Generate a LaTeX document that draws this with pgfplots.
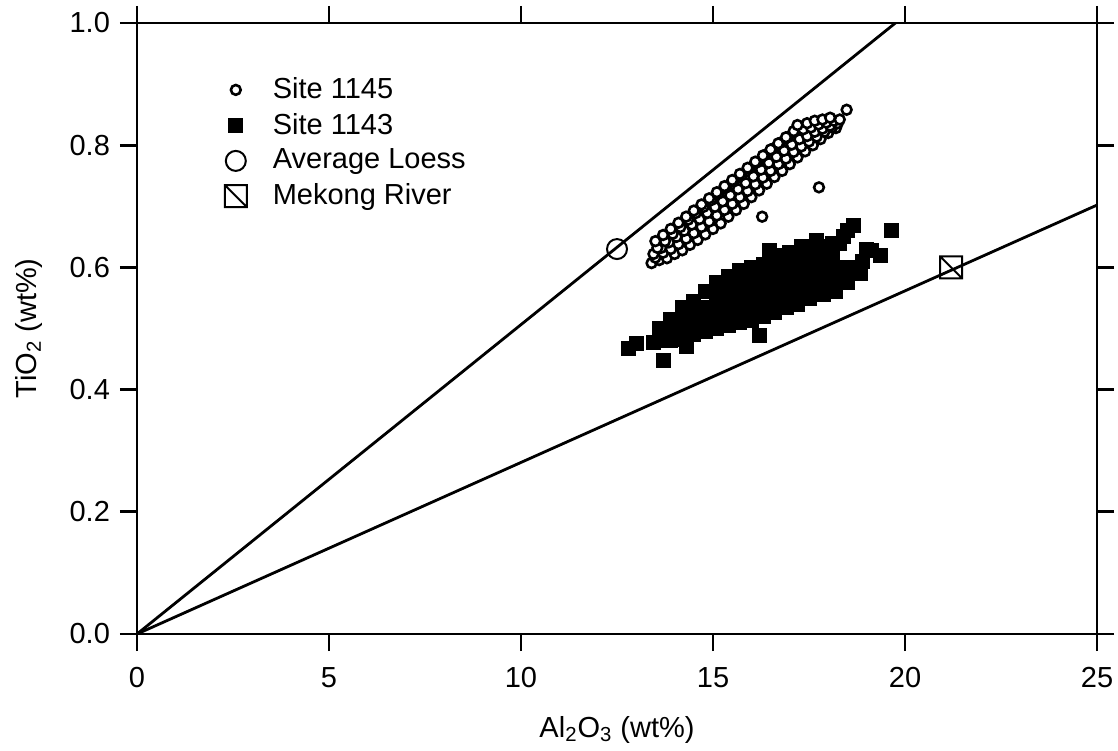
\documentclass[border=0pt]{standalone}
\usepackage{fontspec}
\setmainfont{Liberation Sans}
\usepackage{pgfplots}
\pgfplotsset{compat=1.18}
\pgfdeclareplotmark{sqback}{%
  \pgfpathrectangle{\pgfpoint{-\pgfplotmarksize}{-\pgfplotmarksize}}{\pgfpoint{2\pgfplotmarksize}{2\pgfplotmarksize}}%
  \pgfpathmoveto{\pgfpoint{-\pgfplotmarksize}{\pgfplotmarksize}}%
  \pgfpathlineto{\pgfpoint{\pgfplotmarksize}{-\pgfplotmarksize}}%
  \pgfusepathqstroke}
\begin{document}
\fontsize{14.5}{16.5}\selectfont
\begin{tikzpicture}
\begin{axis}[
  name=ax, scale only axis, width=480pt, height=305.5pt,
  xmin=0, xmax=25, ymin=0, ymax=1,
  xtick={0,5,10,15,20,25},
  ytick={0,0.2,0.4,0.6,0.8,1.0},
  minor tick num=0,
  tick align=outside, major tick length=8.5pt,
  axis line style={line width=1.4pt},
  every tick/.style={line width=1.4pt, black},
  /pgf/number format/assume math mode=true,
  yticklabel style={/pgf/number format/.cd, fixed, fixed zerofill, precision=1},
  ticklabel style={font=\fontsize{14.5}{16.5}\selectfont},
  xticklabel style={yshift=-3pt},
  xlabel={Al\textsubscript{2}O\textsubscript{3} (wt\%)},
  ylabel={TiO\textsubscript{2} (wt\%)},
  label style={font=\fontsize{14.5}{16.5}\selectfont},
  xlabel style={at={(axis description cs:0.5,0)}, anchor=center, yshift=-48pt},
  ylabel style={at={(axis description cs:0,0.5)}, anchor=center, xshift=0pt, yshift=54pt},
  legend style={draw=none, fill=none, at={(axis cs:2.12,0.925)}, anchor=north west,
    font=\fontsize{14.5}{16.5}\selectfont, row sep=1.2pt, column sep=11pt},
  legend cell align=left,
]
\addplot[line width=1.4pt, forget plot] coordinates {(0,0) (19.75,1.0)};
\addplot[line width=1.4pt, forget plot] coordinates {(0,0) (25,0.702)};

\addplot[only marks, mark=*, mark size=2.45pt, mark options={fill=white, draw=black, line width=1.3pt}] table {
x y
16.28 0.683
17.76 0.731
13.4 0.607
13.6 0.612
13.8 0.615
14.0 0.622
14.2 0.628
14.4 0.637
14.6 0.645
14.8 0.654
15.0 0.663
15.2 0.672
15.4 0.683
15.6 0.694
15.8 0.704
16.0 0.715
16.2 0.726
16.4 0.737
16.6 0.748
16.8 0.758
17.0 0.769
17.2 0.780
17.4 0.790
17.6 0.800
17.8 0.810
18.0 0.820
18.2 0.828
13.5 0.616
13.7 0.624
13.9 0.630
14.1 0.638
14.3 0.647
14.5 0.656
14.7 0.666
14.9 0.675
15.1 0.685
15.3 0.694
15.5 0.704
15.7 0.715
15.9 0.725
16.1 0.736
16.3 0.747
16.5 0.758
16.7 0.769
16.9 0.778
17.1 0.789
17.3 0.798
17.5 0.806
17.7 0.814
17.9 0.822
18.1 0.829
13.45 0.622
13.65 0.632
13.85 0.641
14.05 0.650
14.25 0.660
14.45 0.670
14.65 0.679
14.85 0.689
15.05 0.699
15.25 0.708
15.45 0.718
15.65 0.728
15.85 0.738
16.05 0.749
16.25 0.760
16.45 0.771
16.65 0.781
16.85 0.791
17.05 0.801
17.25 0.810
17.45 0.815
17.65 0.822
17.85 0.827
18.05 0.832
18.25 0.836
13.55 0.632
13.75 0.643
13.95 0.655
14.15 0.666
14.35 0.678
14.55 0.689
14.75 0.699
14.95 0.710
15.15 0.721
15.35 0.731
15.55 0.741
15.75 0.751
15.95 0.762
16.15 0.772
16.35 0.784
16.55 0.794
16.75 0.804
16.95 0.813
17.15 0.823
17.35 0.826
17.55 0.829
17.75 0.834
17.95 0.837
18.15 0.840
18.30 0.842
13.5 0.643
13.7 0.653
13.9 0.663
14.1 0.673
14.3 0.683
14.5 0.693
14.7 0.703
14.9 0.713
15.1 0.723
15.3 0.733
15.5 0.743
15.7 0.753
15.9 0.763
16.1 0.773
16.3 0.783
16.5 0.793
16.7 0.803
16.9 0.813
17.1 0.823
17.20 0.833
17.45 0.836
17.65 0.840
17.85 0.842
18.05 0.845
18.48 0.858
};
\addlegendentry{Site 1145}

\addplot[only marks, mark=square*, mark size=3.5pt, mark options={fill=black, draw=black}] table {
x y
12.8 0.468
13.0 0.476
13.45 0.478
13.7 0.448
14.3 0.470
13.8 0.490
14.0 0.500
14.1 0.485
16.22 0.488
16.48 0.628
19.65 0.661
18.65 0.669
18.5 0.660
18.4 0.650
19.35 0.620
19.13 0.628
19.0 0.630
18.83 0.590
17.87 0.555
18.2 0.560
18.5 0.575
18.7 0.600
18.9 0.610
18.3 0.640
18.1 0.640
17.9 0.635
17.7 0.645
17.5 0.630
17.3 0.634
17.0 0.625
16.8 0.620
16.6 0.610
13.6 0.480
13.6 0.500
13.9 0.480
13.9 0.500
13.9 0.515
14.2 0.482
14.2 0.500
14.2 0.520
14.2 0.535
14.5 0.490
14.5 0.510
14.5 0.530
14.5 0.545
14.8 0.495
14.8 0.515
14.8 0.535
14.8 0.560
15.1 0.500
15.1 0.520
15.1 0.540
15.1 0.560
15.1 0.575
15.4 0.505
15.4 0.525
15.4 0.545
15.4 0.565
15.4 0.585
15.7 0.510
15.7 0.530
15.7 0.550
15.7 0.570
15.7 0.595
16.0 0.513
16.0 0.535
16.0 0.555
16.0 0.575
16.0 0.600
16.3 0.520
16.3 0.540
16.3 0.560
16.3 0.580
16.3 0.605
16.6 0.527
16.6 0.547
16.6 0.567
16.6 0.590
16.9 0.535
16.9 0.555
16.9 0.575
16.9 0.595
16.9 0.615
17.2 0.540
17.2 0.560
17.2 0.580
17.2 0.600
17.2 0.620
17.5 0.550
17.5 0.570
17.5 0.590
17.5 0.610
17.8 0.565
17.8 0.585
17.8 0.605
17.8 0.625
18.1 0.575
18.1 0.595
18.1 0.615
18.4 0.580
18.4 0.600
};
\addlegendentry{Site 1143}

\addplot[only marks, mark=o, mark size=5pt, mark options={line width=1pt}] coordinates {(12.5,0.63)};
\addlegendentry{Average Loess}

\addplot[only marks, mark=sqback, mark size=5.5pt, mark options={line width=1pt}] coordinates {(21.2,0.60)};
\addlegendentry{Mekong River}
\end{axis}
\pgfresetboundingbox
\path ([shift={(-68.5pt,-58pt)}]ax.south west) rectangle ([shift={(10.5pt,11.5pt)}]ax.north east);
\end{tikzpicture}
\end{document}
